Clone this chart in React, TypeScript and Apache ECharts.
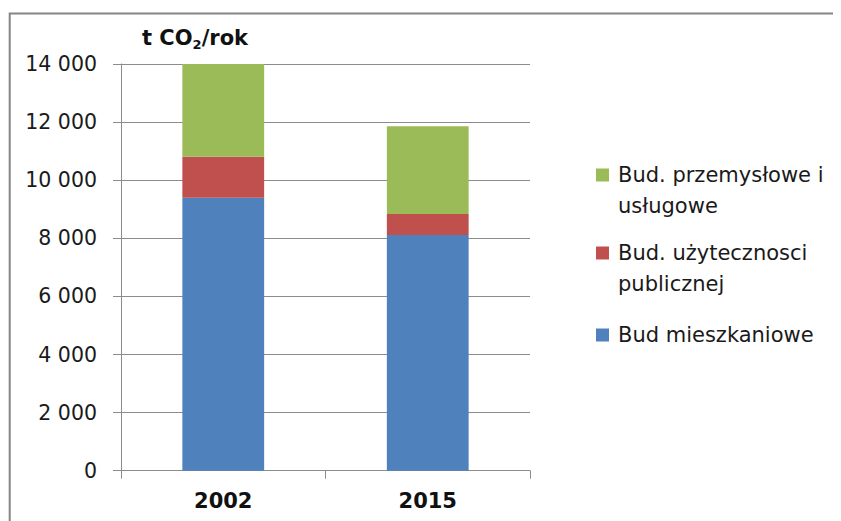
import React, { useEffect, useRef } from "react";
import * as echarts from "echarts";

const categories = ["2002", "2015"];
const seriesNames = [
  "Bud mieszkaniowe",
  "Bud. użytecznosci publicznej",
  "Bud. przemysłowe i usługowe",
];
const legendLabels = [
  "Bud mieszkaniowe",
  "Bud. użytecznosci\npublicznej",
  "Bud. przemysłowe i\nusługowe",
];
const mieszkaniowe = [9400, 8110];
const publiczne = [1410, 725];
const przemyslowe = [3190, 3020];
const yMin = 0;
const yMax = 14000;
const yStep = 2000;
const unitTitle = ["t CO", "2", "/rok"];

const colors = ["#4F81BD", "#C0504D", "#9BBB59"];
const FONT = "DejaVu Sans";
const GRAY = "#8c8c8c";

function fmt(v: number): string {
  return String(v).replace(/\B(?=(\d{3})+(?!\d))/g, " ");
}

export default function App() {
  const ref = useRef<HTMLDivElement>(null);
  useEffect(() => {
    if (!ref.current) return;
    const chart = echarts.init(ref.current, undefined, { renderer: "svg" });
    const values = [mieszkaniowe, publiczne, przemyslowe];
    const legendCentersY = [327, 245, 167];
    const legendGraphics: any[] = [];
    values.forEach((_, i) => {
      legendGraphics.push({
        type: "rect",
        shape: { x: 588, y: legendCentersY[i] - 6.5, width: 13, height: 13 },
        style: { fill: colors[i] },
      });
      legendGraphics.push({
        type: "text",
        x: 610,
        y: legendCentersY[i] - 15.5,
        style: {
          text: legendLabels[i],
          font: `21px '${FONT}'`,
          fill: "#1a1a1a",
          lineHeight: 31,
          verticalAlign: "top",
        },
      });
    });
    chart.setOption({
      animation: false,
      textStyle: { fontFamily: FONT },
      grid: { left: 113, right: 311, top: 56, bottom: 50.3, containLabel: false },
      xAxis: {
        type: "category",
        data: categories,
        axisLine: { lineStyle: { color: GRAY, width: 1 } },
        axisTick: { show: true, length: 8, lineStyle: { color: GRAY } },
        axisLabel: {
          margin: 20,
          fontSize: 21,
          fontWeight: "bold",
          color: "#111",
          fontFamily: FONT,
        },
      },
      yAxis: {
        type: "value",
        min: yMin,
        max: yMax,
        interval: yStep,
        axisLine: { show: true, lineStyle: { color: GRAY, width: 1 } },
        axisTick: { show: true, length: 8, lineStyle: { color: GRAY } },
        splitLine: { lineStyle: { color: GRAY, width: 1 } },
        axisLabel: {
          margin: 24,
          fontSize: 20.5,
          color: "#1a1a1a",
          fontFamily: FONT,
          formatter: (v: number) => fmt(v),
        },
      },
      series: values.map((d, i) => ({
        name: seriesNames[i],
        type: "bar",
        stack: "total",
        data: d,
        barWidth: "40%",
        itemStyle: { color: colors[i] },
      })),
      graphic: [
        {
          type: "rect",
          shape: { x: 1.7, y: 5.5, width: 1000, height: 1000 },
          style: { fill: "none", stroke: "#858585", lineWidth: 2 },
          silent: true,
        },
        {
          type: "text",
          x: 134,
          y: 30,
          style: {
            text: `{a|${unitTitle[0]}}{s|${unitTitle[1]}}{a|${unitTitle[2]}}`,
            verticalAlign: "middle",
            rich: {
              a: { font: `bold 21px '${FONT}'`, fill: "#111" },
              s: { font: `bold 13px '${FONT}'`, fill: "#111", padding: [12, 0, 0, 0] },
            },
          },
        },
        ...legendGraphics,
      ],
    });
    return () => chart.dispose();
  }, []);
  return <div ref={ref} style={{ width: 833, height: 513 }} />;
}
